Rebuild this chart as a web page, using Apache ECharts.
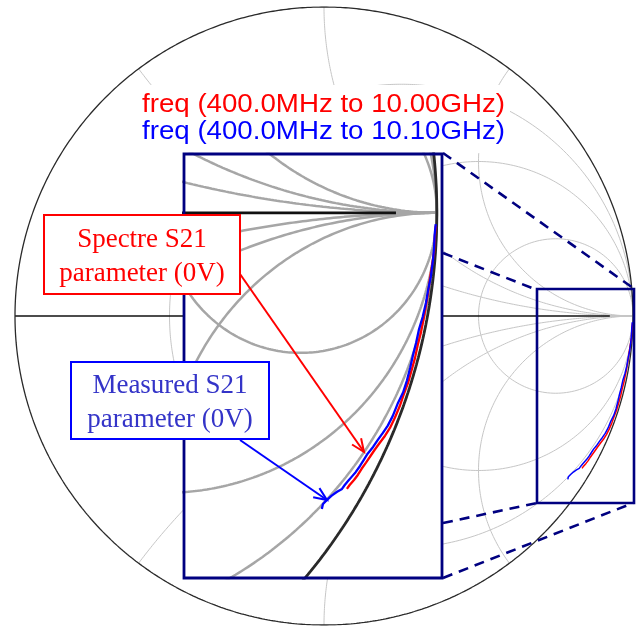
<!DOCTYPE html>
<html><head><meta charset="utf-8">
<script src="https://cdn.jsdelivr.net/npm/echarts/dist/echarts.min.js"></script>
<style>html,body{margin:0;padding:0;background:#fff}#c{width:638px;height:628px}</style>
</head><body><div id="c"></div>
<script>
// ---- chart data (reflection coefficient, real / imaginary) ----
const resistanceCircles = [1/3, 1, 3];
const reactanceArcs = [0.5, 1, 2, -0.5, -1, -2];

const spectreRe = [0.998, 0.996, 0.995, 0.991, 0.987, 0.984, 0.980, 0.976, 0.971, 0.965, 0.960, 0.954, 0.947, 0.939, 0.932, 0.923, 0.914, 0.905, 0.895, 0.886, 0.877, 0.870, 0.862, 0.855, 0.848, 0.840, 0.835];
const spectreIm = [-0.023, -0.048, -0.070, -0.095, -0.120, -0.143, -0.166, -0.188, -0.213, -0.236, -0.259, -0.280, -0.304, -0.325, -0.345, -0.366, -0.384, -0.398, -0.411, -0.423, -0.436, -0.446, -0.457, -0.468, -0.477, -0.486, -0.493];

const measuredRe = [0.998, 0.996, 0.995, 0.993, 0.989, 0.984, 0.980, 0.974, 0.967, 0.962, 0.956, 0.951, 0.945, 0.938, 0.928, 0.919, 0.910, 0.901, 0.892, 0.883, 0.873, 0.866, 0.859, 0.851, 0.844, 0.837, 0.831, 0.826, 0.817, 0.807, 0.798, 0.791, 0.789];
const measuredIm = [-0.020, -0.039, -0.061, -0.084, -0.114, -0.138, -0.161, -0.186, -0.209, -0.232, -0.255, -0.277, -0.300, -0.321, -0.341, -0.363, -0.380, -0.393, -0.405, -0.418, -0.430, -0.441, -0.452, -0.463, -0.471, -0.479, -0.486, -0.493, -0.498, -0.505, -0.513, -0.520, -0.529];

const sweepLabels = ['freq (400.0MHz to 10.00GHz)', 'freq (400.0MHz to 10.10GHz)'];
const sweepColors = ['#ff0000', '#0000ff'];
const calloutSpectre = 'Spectre S21\nparameter (0V)';
const calloutMeasured = 'Measured S21\nparameter (0V)';

// ---- Smith chart grid geometry ----
function gamma(a, b) { const d = (a + 1) * (a + 1) + b * b; return [(a * a - 1 + b * b) / d, 2 * b / d]; }
function rCircle(r) { const c = r / (1 + r), rad = 1 / (1 + r), p = []; for (let i = 0; i <= 720; i++) { const t = i / 720 * 2 * Math.PI; p.push([c + rad * Math.cos(t), rad * Math.sin(t)]); } return p; }
function xArc(x) { const p = []; for (let i = 0; i <= 800; i++) { const f = i / 800 * Math.PI / 2 * 0.9996; p.push(gamma(Math.tan(f), x)); } return p; }
function unitCircle() { const p = []; for (let i = 0; i <= 1440; i++) { const t = i / 1440 * 2 * Math.PI; p.push([Math.cos(t), Math.sin(t)]); } return p; }
function zip(a, b) { return a.map((v, i) => [v, b[i]]); }

function line(data, gi, color, width, z) {
  return { type: 'line', xAxisIndex: gi, yAxisIndex: gi, data: data, showSymbol: false, symbol: 'none',
    lineStyle: { color: color, width: width }, silent: true, z: z, animation: false, clip: true };
}

const series = [];
function addChart(gi, gridColor, gridW, circColor, circW, axisStart, dataW, z) {
  resistanceCircles.forEach(r => series.push(line(rCircle(r), gi, gridColor, gridW, z)));
  reactanceArcs.forEach(x => series.push(line(xArc(x), gi, gridColor, gridW, z)));
  series.push(line([[0.925, 0], [1, 0]], gi, gridColor, gridW, z));
  series.push(line([[axisStart, 0], [0.925, 0]], gi, '#111', circW, z));
  series.push(line(unitCircle(), gi, circColor, circW, z));
  series.push(line(zip(spectreRe, spectreIm), gi, sweepColors[0], dataW, z + 1));
  series.push(line(zip(measuredRe, measuredIm), gi, sweepColors[1], dataW, z + 1));
}
addChart(0, '#c6c6c6', 1, '#2a2a2a', 1.3, -1, 1.5, 1);
addChart(1, '#a6a6a6', 2.5, '#2a2a2a', 2.8, 0.4, 2.3, 5);

// ---- annotations ----
const navy = '#000080';
const mctx = document.createElement('canvas').getContext('2d');
const legFont = '25px "Liberation Sans", Arial, sans-serif';
mctx.font = legFont;
const legScale = 363 / mctx.measureText(sweepLabels[0]).width;

function arrow(x1, y1, x2, y2, color) {
  const L = Math.hypot(x2 - x1, y2 - y1), dx = (x2 - x1) / L, dy = (y2 - y1) / L;
  const bl = 13, bw = 5.5;
  return [
    { type: 'line', z: 8, shape: { x1, y1, x2, y2 }, style: { stroke: color, lineWidth: 2 } },
    { type: 'polyline', z: 8, shape: { points: [[x2 - bl * dx - bw * dy, y2 - bl * dy + bw * dx], [x2, y2], [x2 - bl * dx + bw * dy, y2 - bl * dy - bw * dx]] },
      style: { stroke: color, lineWidth: 2, fill: null } }
  ];
}
function dashed(x1, y1, x2, y2) {
  return { type: 'line', z: 3, shape: { x1, y1, x2, y2 }, style: { stroke: navy, lineWidth: 2.6, lineDash: [10, 7] } };
}

const elements = [
  { type: 'rect', z: 3, shape: { x: 137, y: 85, width: 373, height: 68 }, style: { fill: '#fff' } },
  { type: 'text', z: 3, x: 142, y: 105, scaleX: legScale, style: { text: sweepLabels[0], font: legFont, fill: sweepColors[0], align: 'left', verticalAlign: 'middle', textAlign: 'left', textVerticalAlign: 'middle' } },
  { type: 'text', z: 3, x: 142, y: 132, scaleX: legScale, style: { text: sweepLabels[1], font: legFont, fill: sweepColors[1], align: 'left', verticalAlign: 'middle', textAlign: 'left', textVerticalAlign: 'middle' } },
  { type: 'rect', z: 3, shape: { x: 537, y: 289, width: 97, height: 214 }, style: { fill: 'none', stroke: navy, lineWidth: 2.6 } },
  dashed(443, 153, 633, 288), dashed(443, 253, 537, 290), dashed(443, 523, 537, 503), dashed(443, 578, 633, 503),
  { type: 'rect', z: 4, shape: { x: 184, y: 154, width: 258, height: 424 }, style: { fill: '#fff' } },
  { type: 'rect', z: 6, shape: { x: 184, y: 154, width: 258, height: 424 }, style: { fill: 'none', stroke: navy, lineWidth: 2.8 } },
  { type: 'rect', z: 7, shape: { x: 44, y: 215, width: 196, height: 79 }, style: { fill: '#fff', stroke: '#ff0000', lineWidth: 2 } },
  { type: 'text', z: 7, x: 142, y: 257, style: { text: calloutSpectre, font: '27px "Liberation Serif", "Times New Roman", serif', lineHeight: 34, fill: '#ff0000', align: 'center', verticalAlign: 'middle', textAlign: 'center', textVerticalAlign: 'middle' } },
  { type: 'rect', z: 7, shape: { x: 71, y: 362, width: 198, height: 77 }, style: { fill: '#fff', stroke: '#0000ff', lineWidth: 2 } },
  { type: 'text', z: 7, x: 170, y: 403, style: { text: calloutMeasured, font: '27px "Liberation Serif", "Times New Roman", serif', lineHeight: 34, fill: '#3434c8', align: 'center', verticalAlign: 'middle', textAlign: 'center', textVerticalAlign: 'middle' } }
].concat(arrow(240, 274, 364, 452, '#ff0000'), arrow(240, 440, 327, 500, '#0000ff'));

const chart = echarts.init(document.getElementById('c'), null, { renderer: 'canvas' });
chart.setOption({
  animation: false,
  backgroundColor: '#fff',
  grid: [{ left: 15, top: 7, width: 618, height: 618 }, { left: 184, top: 154, width: 258, height: 424 }],
  xAxis: [{ gridIndex: 0, type: 'value', min: -1, max: 1, show: false }, { gridIndex: 1, type: 'value', min: 0.536, max: 1.0095, show: false }],
  yAxis: [{ gridIndex: 0, type: 'value', min: -1, max: 1, show: false }, { gridIndex: 1, type: 'value', min: -0.652, max: 0.105, show: false }],
  series: series,
  graphic: { elements: elements }
});
</script></body></html>
